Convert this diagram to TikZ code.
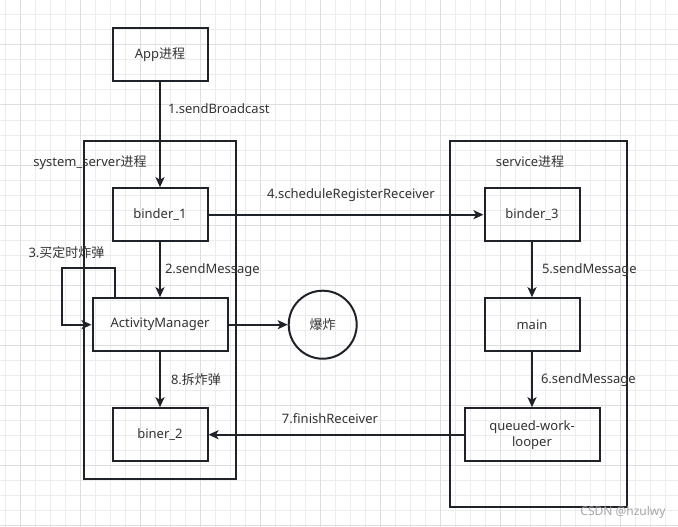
\documentclass[tikz,border=0pt]{standalone}
\usepackage{fontspec}
\setmainfont{Noto Sans}
\newfontfamily\cjk{Noto Sans CJK SC}
\usetikzlibrary{arrows.meta}

\definecolor{linecol}{HTML}{1F2329}
\definecolor{txtcol}{HTML}{333333}
\definecolor{gridminor}{HTML}{ECECEC}
\definecolor{gridmajor}{HTML}{DEDEDE}

\tikzset{
  proc/.style={draw=linecol, line width=2pt, minimum width=95pt, minimum height=53pt,
    inner sep=0pt, text=txtcol, font=\fontsize{13}{16}\selectfont, align=center},
  group/.style={draw=linecol, line width=2pt, inner sep=0pt},
  bomb/.style={circle, draw=linecol, line width=2pt, minimum size=68pt, inner sep=0pt,
    text=txtcol, font=\fontsize{13}{16}\selectfont\cjk},
  flow/.style={draw=linecol, line width=2pt, -{Stealth[length=10pt,width=9pt,inset=2.5pt]}},
  lbl/.style={inner sep=0pt, text=txtcol, font=\fontsize{13}{16}\selectfont},
}

\begin{document}
\begin{tikzpicture}[x=1pt, y=-1pt]

  \fill[white] (0,0) rectangle (678,527);
  \useasboundingbox (0,0) rectangle (678,527);

  % background grid
  \foreach \gx in {5,20,...,675} \draw[gridminor, line width=1pt] (\gx,0) -- (\gx,527);
  \foreach \gy in {0,15,...,525} \draw[gridminor, line width=1pt] (0,\gy) -- (678,\gy);
  \foreach \gx in {20,80,...,680} \draw[gridmajor, line width=1pt] (\gx,0) -- (\gx,527);
  \foreach \gy in {45,105,...,525} \draw[gridmajor, line width=1pt] (0,\gy) -- (678,\gy);

  % process containers
  \node[group, minimum width=152pt, minimum height=338pt] (sysbox) at (160.3,310.4) {};
  \node[group, minimum width=177pt, minimum height=366pt] (svcbox) at (538.2,324.4) {};
  \node[lbl] (syslabel) at (90,163) {system\_server{\cjk 进程}};
  \node[lbl] (svclabel) at (530,162) {service{\cjk 进程}};

  % boxes
  \node[proc] (app)     at (160,54.7)  {App{\cjk 进程}};
  \node[proc] (binder1) at (160,214.7) {binder\_1};
  \node[proc, minimum width=135pt] (am) at (160,324.7) {ActivityManager};
  \node[proc] (biner2)  at (160,434.7) {biner\_2};
  \node[bomb] (boom)    at (322.7,324.7) {爆炸};

  \node[proc] (binder3) at (532,214.7) {binder\_3};
  \node[proc] (main)    at (532,324.7) {main};
  \node[proc, minimum width=135pt] (queued) at (532,434.7) {queued-work-\\looper};

  % messages
  \draw[flow] (app) -- node[lbl, pos=.25, right=7pt] {1.sendBroadcast} (binder1);
  \draw[flow] (binder1) -- node[lbl, right=4pt] {2.sendMessage} (am);
  \draw[flow] ([xshift=23pt]am.north west) |- (62,268) |- (am.west);
  \node[lbl] (selfloop) at (66.5,253) {3.{\cjk 买定时炸弹}};
  \draw[flow] (binder1) -- node[lbl, above=12pt, xshift=5pt] {4.scheduleRegisterReceiver} (binder3);
  \draw[flow] (binder3) -- node[lbl, right=9pt] {5.sendMessage} (main);
  \draw[flow] (main) -- node[lbl, right=8pt] {6.sendMessage} (queued);
  \draw[flow] (queued) -- node[lbl, above=10pt, xshift=-6pt] {7.finishReceiver} (biner2);
  \draw[flow] (am) -- node[lbl, right=10pt] {8.{\cjk 拆炸弹}} (biner2);
  \draw[flow] (am) -- (boom);

  \node[lbl, text=gray!70, font=\fontsize{12}{14}\selectfont] (mark) at (623,512) {CSDN @hzulwy};

\end{tikzpicture}
\end{document}
